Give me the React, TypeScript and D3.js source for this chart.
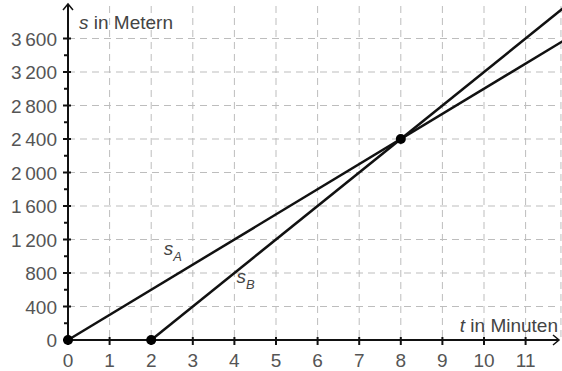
import { useRef, useEffect } from 'react'
import { select, scaleLinear } from 'd3'

const W = 562
const H = 371

// Weg-Zeit: s_A startet bei t=0 (300 m/min), s_B bei t=2 (400 m/min)
const lineA = [{ t: 0, s: 0 }, { t: 12, s: 3600 }]
const lineB = [{ t: 2, s: 0 }, { t: 12, s: 4000 }]
const points = [{ t: 0, s: 0 }, { t: 2, s: 0 }, { t: 8, s: 2400 }]
const xTicks = [0, 1, 2, 3, 4, 5, 6, 7, 8, 9, 10, 11]
const yTicks = [0, 400, 800, 1200, 1600, 2000, 2400, 2800, 3200, 3600]
const yMinor = [200, 600, 1000, 1400, 1800, 2200, 2600, 3000, 3400]

const fmt = (v: number) => v >= 1000 ? `${Math.floor(v / 1000)}\u2009${String(v % 1000).padStart(3, '0')}` : String(v)

const App = () => {
  const svgRef = useRef<SVGSVGElement>(null)

  useEffect(() => {
    const svg = select(svgRef.current)
    svgRef.current!.innerHTML = ''

    const x = scaleLinear().domain([0, 11]).range([68, 525.6])
    const y = scaleLinear().domain([0, 2400]).range([340, 139])
    const right = W - 2
    const top = 4
    const gridCol = '#bdbdbd'

    const g = svg.append('g')

    // Gitter
    g.selectAll('.vgrid').data(xTicks.slice(1)).join('line')
      .attr('x1', d => x(d)).attr('x2', d => x(d))
      .attr('y1', top + 2).attr('y2', y(0))
      .attr('stroke', gridCol).attr('stroke-width', 1).attr('stroke-dasharray', '7,5')
    g.append('line').attr('x1', x(11.85)).attr('x2', x(11.85)).attr('y1', 6).attr('y2', y(0))
      .attr('stroke', gridCol).attr('stroke-dasharray', '7,5')
    g.selectAll('.hgrid').data(yTicks.slice(1)).join('line')
      .attr('x1', x(0)).attr('x2', right)
      .attr('y1', d => y(d)).attr('y2', d => y(d))
      .attr('stroke', gridCol).attr('stroke-width', 1).attr('stroke-dasharray', '7,5')

    // Achsen
    g.append('line').attr('x1', x(0)).attr('x2', right - 1).attr('y1', y(0)).attr('y2', y(0))
      .attr('stroke', '#111').attr('stroke-width', 2)
    g.append('path').attr('d', `M${right - 7},${y(0) - 5} L${right - 1},${y(0)} L${right - 7},${y(0) + 5}`)
      .attr('fill', 'none').attr('stroke', '#111').attr('stroke-width', 1.5)
    g.append('line').attr('x1', x(0)).attr('x2', x(0)).attr('y1', y(0)).attr('y2', top)
      .attr('stroke', '#111').attr('stroke-width', 2)
    g.append('path').attr('d', `M${x(0) - 5},${top + 6} L${x(0)},${top} L${x(0) + 5},${top + 6}`)
      .attr('fill', 'none').attr('stroke', '#111').attr('stroke-width', 1.5)

    // Striche
    g.selectAll('.xtick').data(xTicks).join('line')
      .attr('x1', d => x(d)).attr('x2', d => x(d))
      .attr('y1', y(0) - 3).attr('y2', y(0) + 5)
      .attr('stroke', '#111').attr('stroke-width', 2)
    g.selectAll('.ytick').data(yTicks).join('line')
      .attr('x1', x(0) - 5).attr('x2', x(0) + 3)
      .attr('y1', d => y(d)).attr('y2', d => y(d))
      .attr('stroke', '#111').attr('stroke-width', 2)
    g.selectAll('.yminor').data(yMinor).join('line')
      .attr('x1', x(0) - 4).attr('x2', x(0))
      .attr('y1', d => y(d)).attr('y2', d => y(d))
      .attr('stroke', '#111').attr('stroke-width', 2)

    // Beschriftung
    const font = "'Liberation Sans', Arial, sans-serif"
    const fs = 19
    g.selectAll('.xlab').data(xTicks).join('text')
      .attr('x', d => x(d)).attr('y', 367)
      .attr('text-anchor', 'middle')
      .attr('font-family', font).attr('font-size', fs).attr('fill', '#555')
      .text(d => d)
    g.selectAll('.ylab').data(yTicks).join('text')
      .attr('x', 57).attr('y', d => y(d) + 7)
      .attr('text-anchor', 'end')
      .attr('font-family', font).attr('font-size', fs).attr('fill', '#555')
      .text(d => fmt(d))

    const sLab = g.append('text').attr('x', 79).attr('y', 29)
      .attr('font-family', font).attr('font-size', fs).attr('fill', '#444')
    sLab.append('tspan').attr('font-style', 'italic').text('s')
    sLab.append('tspan').text(' in Metern')

    const tLab = g.append('text').attr('x', 558).attr('y', 332).attr('text-anchor', 'end')
      .attr('font-family', font).attr('font-size', fs).attr('fill', '#444')
    tLab.append('tspan').attr('font-style', 'italic').text('t')
    tLab.append('tspan').text(' in Minuten')

    const clip = svg.append('clipPath').attr('id', 'plotclip')
    clip.append('rect').attr('x', 0).attr('y', 0).attr('width', W).attr('height', H)

    // Linien
    ;[lineA, lineB].forEach(data => {
      g.append('line')
        .attr('x1', x(data[0].t)).attr('y1', y(data[0].s))
        .attr('x2', x(data[1].t)).attr('y2', y(data[1].s))
        .attr('stroke', '#111').attr('stroke-width', 2.5)
        .attr('clip-path', 'url(#plotclip)')
    })

    g.selectAll('.pt').data(points).join('circle')
      .attr('cx', d => x(d.t)).attr('cy', d => y(d.s)).attr('r', 5)
      .attr('fill', '#000')

    // Namen der Geraden
    const labels = [{ name: 'A', t: 2.3, s: 1020 }, { name: 'B', t: 4.05, s: 680 }]
    labels.forEach(l => {
      const tx = g.append('text').attr('x', x(l.t)).attr('y', y(l.s))
        .attr('font-family', font).attr('font-size', fs).attr('fill', '#444')
      tx.append('tspan').attr('font-style', 'italic').text('s')
      tx.append('tspan').attr('font-style', 'italic').attr('font-size', 13).attr('dy', 6).text(l.name)
    })
  }, [])

  return (
    <div style={{ position: 'absolute', left: 0, top: 0 }}>
      <svg ref={svgRef} width={W} height={H} style={{ display: 'block', background: '#fff' }} />
    </div>
  )
}

export default App
